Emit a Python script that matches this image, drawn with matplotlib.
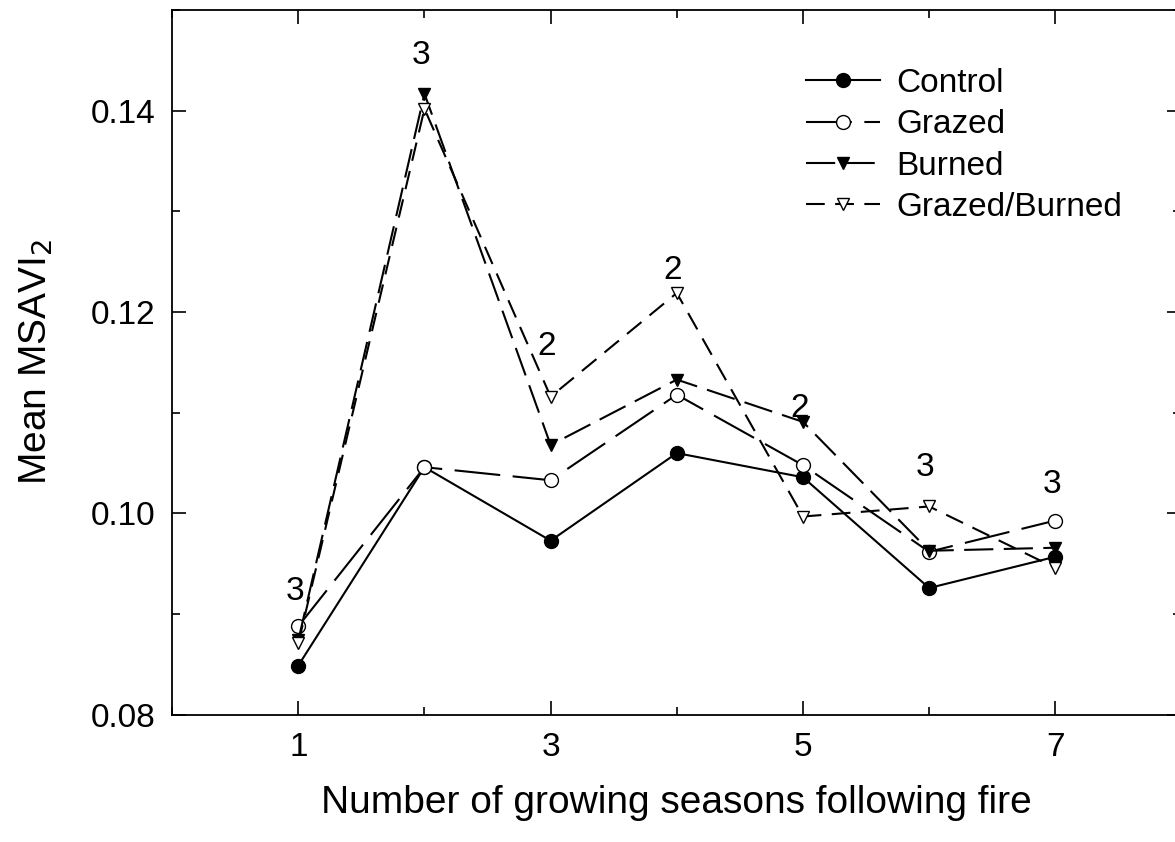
import matplotlib
matplotlib.use("Agg")
import matplotlib.pyplot as plt
from matplotlib.ticker import MultipleLocator

plt.rcParams['font.family'] = ['Liberation Sans', 'DejaVu Sans']

# values
seasons = [1, 2, 3, 4, 5, 6, 7]
control = [0.0849, 0.1046, 0.0973, 0.1060, 0.1036, 0.0926, 0.0957]
grazed = [0.0888, 0.1046, 0.1033, 0.1118, 0.1048, 0.0962, 0.0993]
burned = [0.0874, 0.1417, 0.1068, 0.1133, 0.1091, 0.0963, 0.0966]
grazed_burned = [0.0871, 0.1402, 0.1116, 0.1219, 0.0997, 0.1007, 0.0946]

# number labels above each season
n_labels = ['3', '3', '2', '2', '2', '3', '3']
n_label_y = [0.0923, 0.1455, 0.1166, 0.1241, 0.1104, 0.1046, 0.1029]

fig = plt.figure(figsize=(11.75, 8.42), dpi=100)
ax = fig.add_axes([0.1465, 0.151, 0.859, 0.837])

lw = 1.5
ax.plot(seasons, control, color='black', lw=lw, marker='o', ms=10,
        mfc='black', mec='black', label='Control', zorder=3)
ax.plot(seasons, grazed, color='black', lw=lw, marker='o', ms=10,
        mfc='white', mec='black', dashes=(22, 6), label='Grazed', zorder=4)
ax.plot(seasons, burned, color='black', lw=lw, marker='v', ms=9,
        mfc='black', mec='black', dashes=(14, 5), label='Burned', zorder=5)
ax.plot(seasons, grazed_burned, color='black', lw=lw, marker='v', ms=9,
        mfc='white', mec='black', dashes=(9, 5), label='Grazed/Burned', zorder=6)

for x, t, y in zip(seasons, n_labels, n_label_y):
    ax.text(x - 0.03, y, t, ha='center', va='center', fontsize=24)

ax.set_xlim(0, 8)
ax.set_ylim(0.08, 0.15)
ax.set_xticks([1, 3, 5, 7])
ax.xaxis.set_minor_locator(MultipleLocator(1))
ax.set_yticks([0.08, 0.10, 0.12, 0.14])
ax.yaxis.set_minor_locator(MultipleLocator(0.01))
ax.set_yticklabels(['0.08', '0.10', '0.12', '0.14'])
ax.tick_params(which='both', direction='in', top=True, right=True,
               labelsize=24, width=1.2, pad=12)
ax.tick_params(which='major', length=10)
ax.tick_params(which='minor', length=6)
for s in ax.spines.values():
    s.set_linewidth(1.3)

ax.set_xlabel('Number of growing seasons following fire', fontsize=28, labelpad=16)
ax.set_ylabel('Mean MSAVI$_2$', fontsize=28, labelpad=26)

ax.legend(loc='upper left', bbox_to_anchor=(0.615, 0.937), frameon=False,
          fontsize=24, handlelength=2.2, handletextpad=0.5, labelspacing=0.31,
          borderaxespad=0)

fig.savefig('out.png', dpi=100)
